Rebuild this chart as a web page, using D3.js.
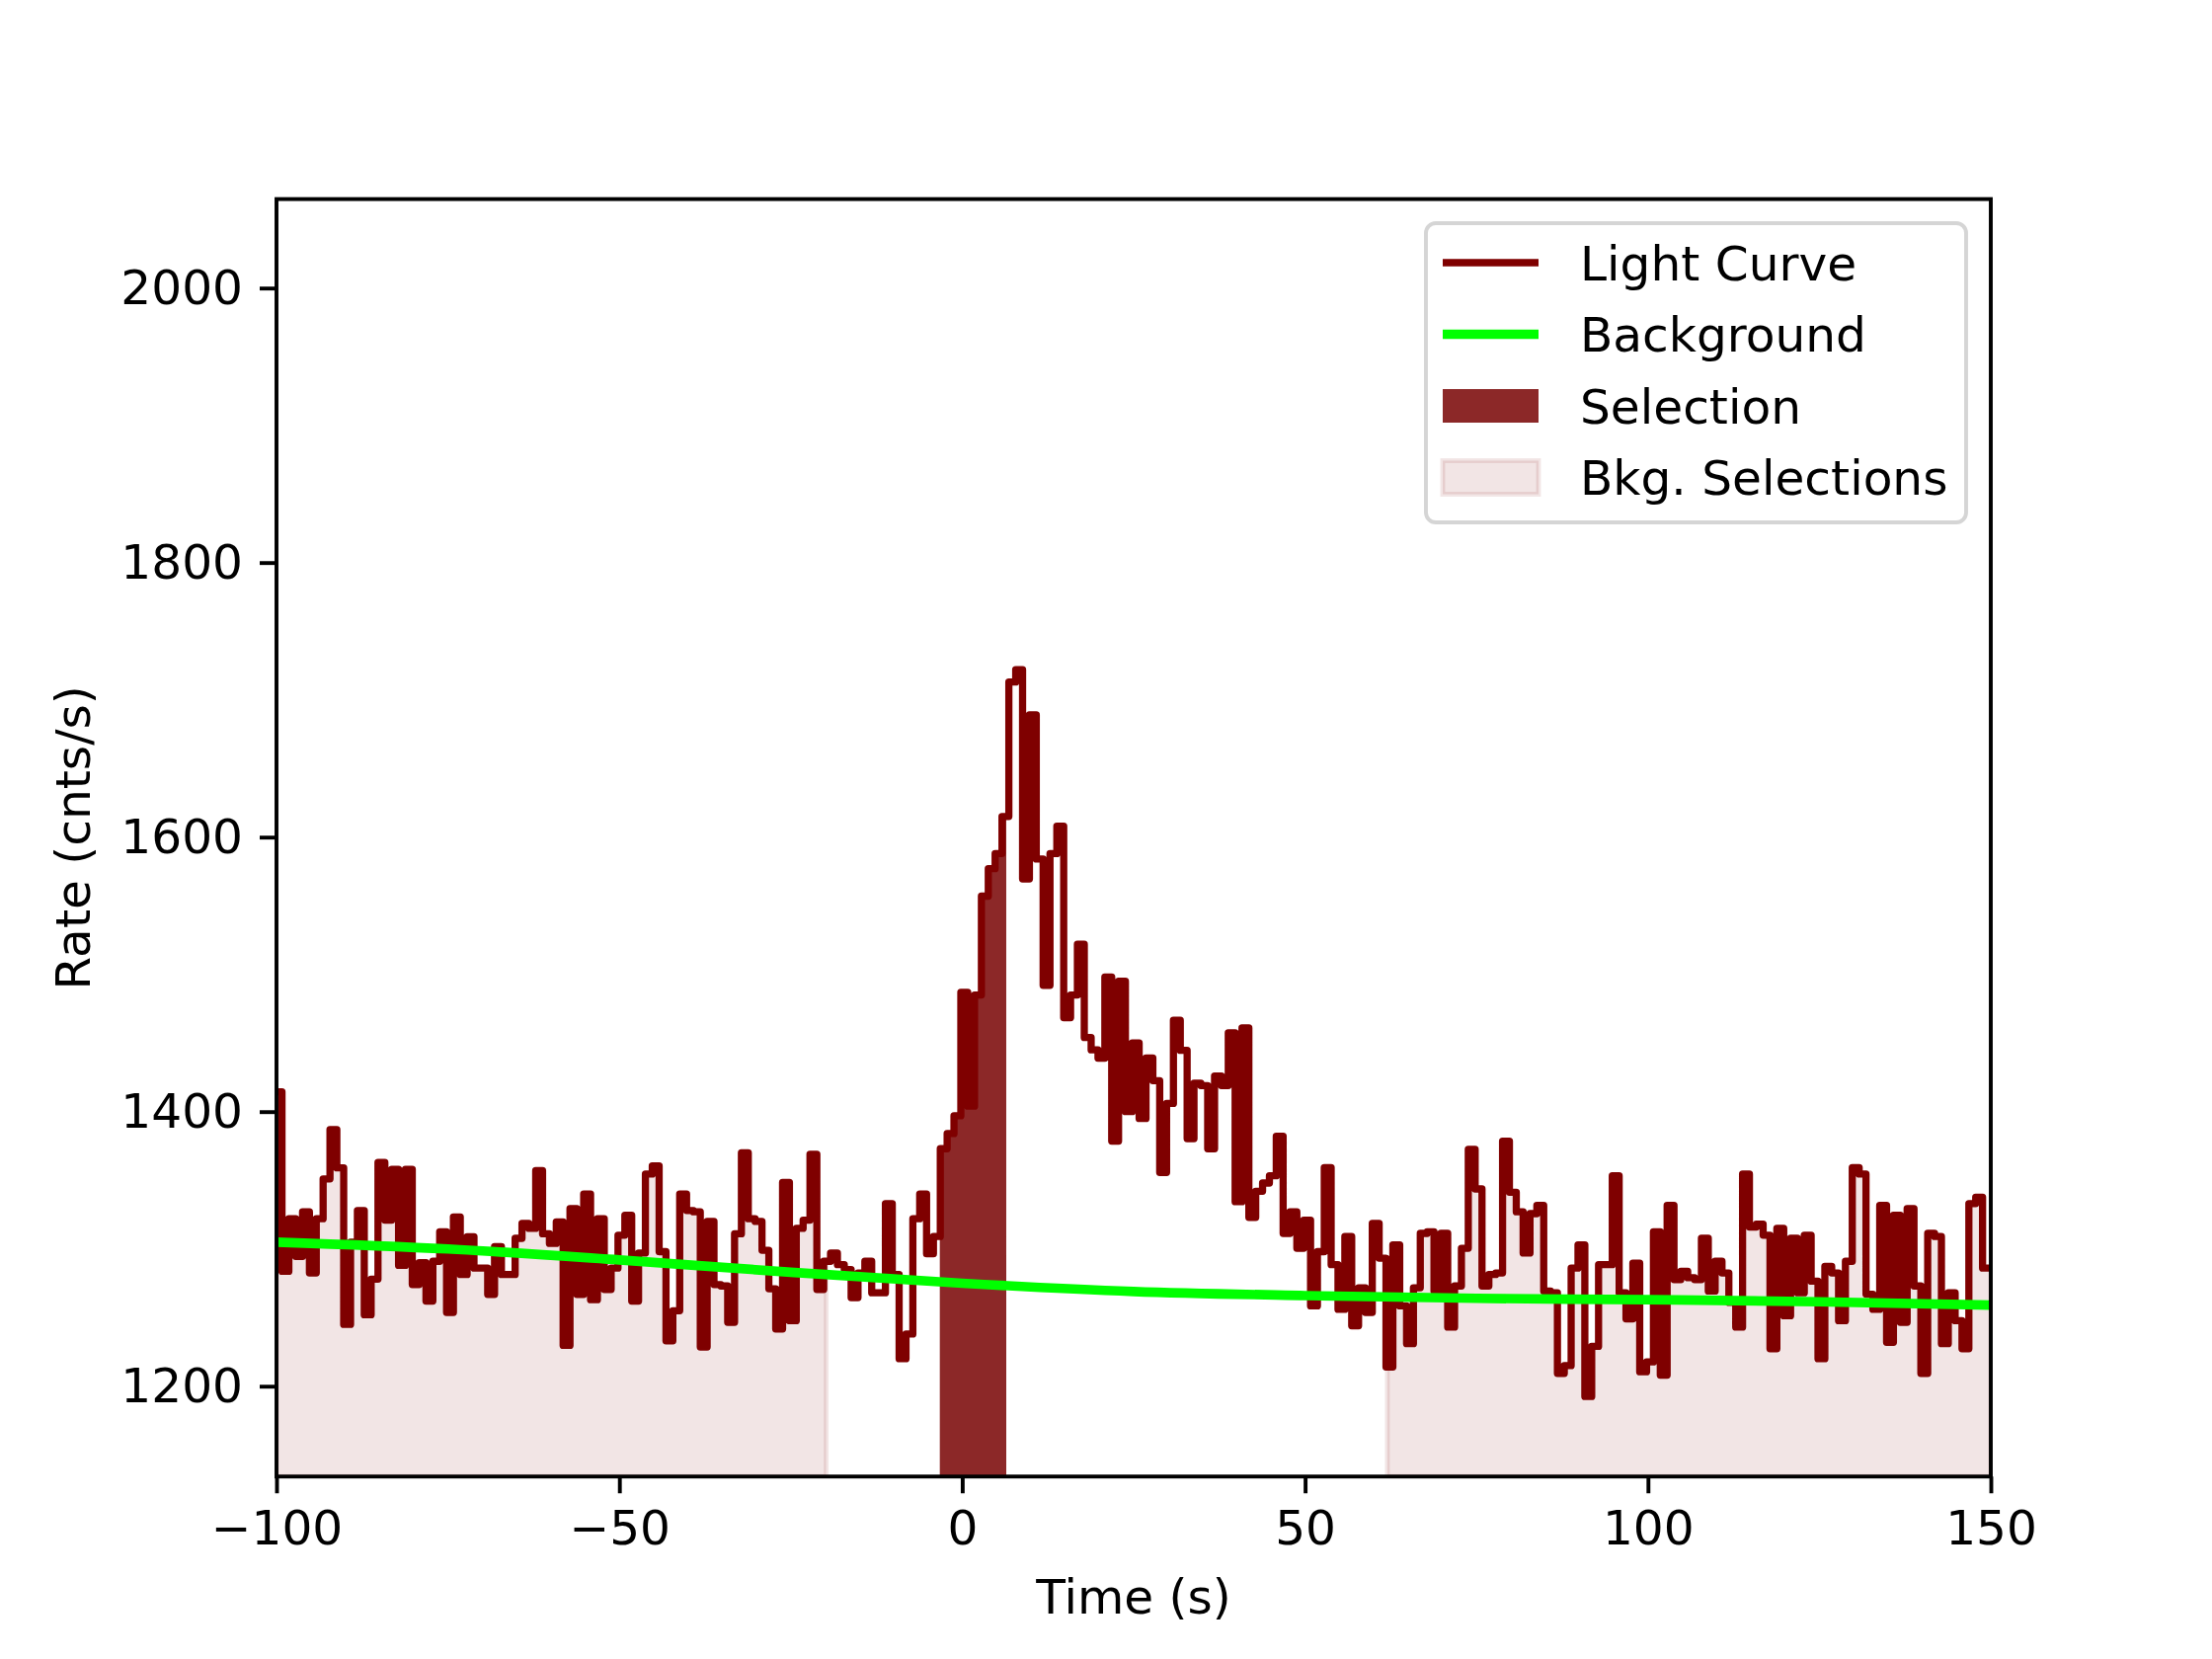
<!DOCTYPE html>
<html>
<head>
<meta charset="utf-8">
<script src="https://cdn.jsdelivr.net/npm/d3@7"></script>
<style>
  body { margin: 0; background: #fff; }
  text { font-family: "DejaVu Sans", sans-serif; }
</style>
</head>
<body>
<div id="chart"></div>
<script>
// light curve, 1 s bins starting at binStart
const binStart = -101.2;
const binWidth = 1.0;
const rates = [
  1414, 1414.5, 1283.7, 1322, 1294.5, 1327, 1282.5, 1322, 1351, 1387,
  1359, 1245, 1305, 1328, 1252, 1278, 1363, 1321, 1358, 1288,
  1358, 1274, 1290, 1262, 1291, 1312.5, 1253.7, 1323.3, 1281.3, 1308.9,
  1286, 1286, 1266.9, 1301.7, 1281.3, 1281.3, 1307.7, 1318.5, 1315, 1357,
  1311, 1304, 1319.7, 1229.7, 1329.3, 1266.9, 1340, 1263, 1322, 1270.5,
  1286, 1310, 1324.5, 1262, 1297, 1354.5, 1360.5, 1298, 1233, 1255,
  1340, 1328, 1327, 1228.5, 1320, 1274, 1273, 1246.5, 1311, 1370,
  1322, 1320, 1299, 1271, 1241.7, 1348.5, 1247.7, 1315, 1321, 1369,
  1270.5, 1291, 1297, 1288.5, 1285, 1264.5, 1282.5, 1291, 1268, 1268,
  1333, 1281.3, 1220, 1238, 1322, 1340, 1296.5, 1309, 1373, 1384,
  1397, 1487, 1404, 1485, 1557, 1577, 1588, 1615, 1713, 1722,
  1569.5, 1689, 1584, 1492, 1588, 1608, 1468.5, 1485, 1522, 1454,
  1445, 1439, 1498, 1378.5, 1495, 1400, 1450, 1395, 1439, 1422.6,
  1355.7, 1406, 1466.6, 1444.6, 1380.3, 1420.7, 1419, 1373, 1426, 1419,
  1457.4, 1334.4, 1461, 1323, 1342, 1348, 1353.3, 1382, 1311.3, 1327,
  1300.5, 1321, 1258.5, 1298, 1359.3, 1288.5, 1256, 1309, 1244, 1271.7,
  1253.7, 1318.5, 1293.3, 1214, 1303, 1258.5, 1231, 1271.7, 1311.3, 1312.5,
  1269.3, 1311.3, 1243, 1273, 1300.5, 1372.5, 1343.7, 1273, 1281.3, 1282.5,
  1378.5, 1341.3, 1327, 1297, 1325.7, 1331.7, 1269.3, 1268, 1209.3, 1215,
  1286, 1303, 1192.5, 1229, 1288.5, 1288.5, 1353.3, 1268, 1249, 1289.7,
  1210.5, 1217.7, 1312.5, 1208, 1331.7, 1277.7, 1283.7, 1279, 1277.7, 1307.7,
  1269.3, 1291, 1282.5, 1261, 1243, 1354.5, 1316, 1318, 1310, 1227.3,
  1315, 1251.3, 1307.7, 1268, 1310, 1276.5, 1220, 1287.3, 1282.5, 1247.7,
  1291, 1359.3, 1354.5, 1267, 1256, 1331.7, 1232, 1324.5, 1246.5, 1329.3,
  1273, 1209.3, 1311.3, 1309, 1231, 1268, 1247.7, 1227.3, 1333, 1337.7,
  1286, 1286
];

// background model, read at a few times
const bkgModelTime = [-100, -75, -50, -25, 0, 25, 50, 75, 100, 125, 150];
const bkgModelRate = [1305, 1300, 1292, 1283, 1275, 1269, 1266, 1264, 1263, 1261.5, 1259];

const selection = [-3.27, 6.42];
const bkgSelections = [[-100, -19.84], [62.0, 150]];

const xTicks = [-100, -50, 0, 50, 100, 150];
const yTicks = [1200, 1400, 1600, 1800, 2000];
const legendLabels = ["Light Curve", "Background", "Selection", "Bkg. Selections"];

const W = 2240, H = 1680;
const fs = 48.6;            // 10pt at 350 dpi
const lcColor = "#7f0000";

const x = d3.scaleLinear().domain([-100, 150]).range([280, 2016]);
const y = d3.scaleLinear().domain([1134.2, 2064.8]).range([1495.2, 201.6]);

const svg = d3.select("#chart").append("svg")
  .attr("width", W).attr("height", H)
  .attr("viewBox", [0, 0, W, H]);

svg.append("rect").attr("width", W).attr("height", H).attr("fill", "#fff");

svg.append("clipPath").attr("id", "plotclip")
  .append("rect")
  .attr("x", x.range()[0]).attr("y", y.range()[1])
  .attr("width", x.range()[1] - x.range()[0])
  .attr("height", y.range()[0] - y.range()[1]);

const plot = svg.append("g").attr("clip-path", "url(#plotclip)");

function valueAt(t) {
  let i = Math.floor((t - binStart) / binWidth + 1e-9);
  i = Math.max(0, Math.min(rates.length - 1, i));
  return rates[i];
}

const stepPts = rates.map((v, i) => [binStart + i * binWidth, v]);
stepPts.push([binStart + rates.length * binWidth, rates[rates.length - 1]]);

function rangePts(a, b) {
  const pts = [a];
  for (let i = 0; i <= rates.length; i++) {
    const e = binStart + i * binWidth;
    if (e > a && e < b) pts.push(e);
  }
  pts.push(b);
  return pts;
}

const stepArea = d3.area()
  .x(d => x(d))
  .y0(y.range()[0])
  .y1(d => y(valueAt(d)))
  .curve(d3.curveStepAfter);

// bkg selections
plot.append("g").attr("class", "bkgsel")
  .selectAll("path")
  .data(bkgSelections)
  .join("path")
    .attr("d", d => stepArea(rangePts(d[0], d[1])))
    .attr("fill", "rgba(128,0,0,0.1)")
    .attr("stroke", "rgba(128,0,0,0.1)")
    .attr("stroke-width", 4.9);

// selection
plot.append("path")
  .attr("d", stepArea(rangePts(selection[0], selection[1])))
  .attr("fill", "#8c2828");

// light curve
const stepLine = d3.line()
  .x(d => x(d[0]))
  .y(d => y(d[1]))
  .curve(d3.curveStepAfter);

plot.append("path")
  .attr("d", stepLine(stepPts))
  .attr("fill", "none")
  .attr("stroke", lcColor)
  .attr("stroke-width", 7.3)
  .attr("stroke-linejoin", "round");

// background model
const bkgLine = d3.line()
  .x((d, i) => x(bkgModelTime[i]))
  .y(d => y(d))
  .curve(d3.curveMonotoneX);

plot.append("path")
  .attr("d", bkgLine(bkgModelRate))
  .attr("fill", "none")
  .attr("stroke", "#00ff00")
  .attr("stroke-width", 9.7);

// axes
const fmt = d => d < 0 ? "\u2212" + Math.abs(d) : String(d);

const gx = svg.append("g")
  .attr("transform", `translate(0,${y.range()[0]})`)
  .call(d3.axisBottom(x).tickValues(xTicks).tickSize(17).tickPadding(17).tickFormat(fmt));
const gy = svg.append("g")
  .attr("transform", `translate(${x.range()[0]},0)`)
  .call(d3.axisLeft(y).tickValues(yTicks).tickSize(17).tickPadding(17).tickFormat(fmt));

[gx, gy].forEach(g => {
  g.select(".domain").remove();
  g.selectAll(".tick line").attr("stroke", "#000").attr("stroke-width", 3.9);
  g.selectAll(".tick text")
    .attr("fill", "#000")
    .style("font-size", fs + "px")
    .style("font-family", "DejaVu Sans");
});

// spines
svg.append("rect")
  .attr("x", x.range()[0]).attr("y", y.range()[1])
  .attr("width", x.range()[1] - x.range()[0])
  .attr("height", y.range()[0] - y.range()[1])
  .attr("fill", "none")
  .attr("stroke", "#000")
  .attr("stroke-width", 3.9);

// axis labels
svg.append("text")
  .attr("x", (x.range()[0] + x.range()[1]) / 2)
  .attr("y", 1634)
  .attr("text-anchor", "middle")
  .style("font-size", fs + "px")
  .text("Time (s)");

svg.append("text")
  .attr("transform", `translate(74,${(y.range()[0] + y.range()[1]) / 2}) rotate(-90)`)
  .attr("text-anchor", "middle")
  .attr("dy", "0.35em")
  .style("font-size", fs + "px")
  .text("Rate (cnts/s)");

// legend
const legend = svg.append("g").attr("class", "legend");
legend.append("rect")
  .attr("x", 1444).attr("y", 226)
  .attr("width", 547).attr("height", 303)
  .attr("rx", 10).attr("ry", 10)
  .attr("fill", "rgba(255,255,255,0.8)")
  .attr("stroke", "#d5d5d5")
  .attr("stroke-width", 3.9);

const rowY = [266, 338.5, 411, 483.5];
const hx0 = 1461, hx1 = 1558;

const items = legend.selectAll("g.item")
  .data(legendLabels)
  .join("g")
    .attr("class", "item")
    .attr("transform", (d, i) => `translate(0,${rowY[i]})`);

items.append("text")
  .attr("x", 1600)
  .attr("dy", "0.36em")
  .style("font-size", fs + "px")
  .text(d => d);

items.filter((d, i) => i === 0).append("line")
  .attr("x1", hx0).attr("x2", hx1)
  .attr("stroke", lcColor).attr("stroke-width", 7.3);
items.filter((d, i) => i === 1).append("line")
  .attr("x1", hx0).attr("x2", hx1)
  .attr("stroke", "#00ff00").attr("stroke-width", 9.7);
items.filter((d, i) => i === 2).append("rect")
  .attr("x", hx0).attr("y", -17).attr("width", hx1 - hx0).attr("height", 34)
  .attr("fill", "#8c2828");
items.filter((d, i) => i === 3).append("rect")
  .attr("x", hx0).attr("y", -17).attr("width", hx1 - hx0).attr("height", 34)
  .attr("fill", "rgba(128,0,0,0.1)")
  .attr("stroke", "rgba(128,0,0,0.1)")
  .attr("stroke-width", 4.9);
</script>
</body>
</html>
